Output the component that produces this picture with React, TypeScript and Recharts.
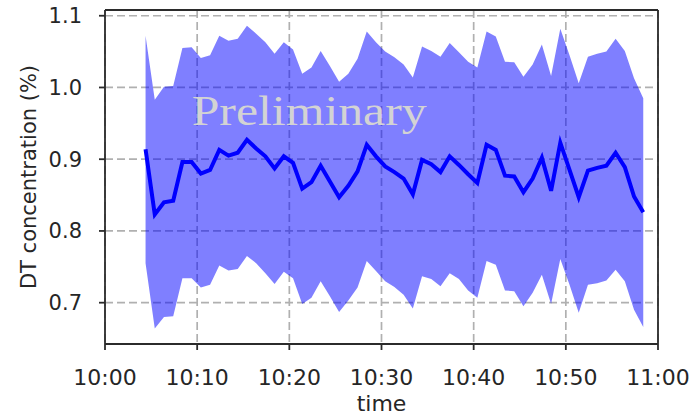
import { Area, CartesianGrid, ComposedChart, Line, XAxis, YAxis } from "recharts";

// minutes after 10:00
const minutes = [
  4.4, 5.4, 6.4, 7.4, 8.4, 9.4, 10.4, 11.4, 12.4, 13.4, 14.4, 15.4, 16.4, 17.4,
  18.4, 19.4, 20.4, 21.4, 22.4, 23.4, 24.4, 25.4, 26.4, 27.4, 28.4, 29.4, 30.4,
  31.4, 32.4, 33.4, 34.4, 35.4, 36.4, 37.4, 38.4, 39.4, 40.4, 41.4, 42.4, 43.4,
  44.4, 45.4, 46.4, 47.4, 48.4, 49.4, 50.4, 51.4, 52.4, 53.4, 54.4, 55.4, 56.4,
  57.4, 58.4,
];

const meanConc = [
  0.914, 0.823, 0.84, 0.842, 0.896, 0.896, 0.88, 0.885, 0.913, 0.905, 0.909,
  0.927, 0.915, 0.904, 0.887, 0.904, 0.895, 0.859, 0.868, 0.891, 0.869, 0.847,
  0.863, 0.883, 0.92, 0.904, 0.89, 0.882, 0.873, 0.851, 0.899, 0.893, 0.882,
  0.904, 0.892, 0.879, 0.867, 0.92, 0.913, 0.877, 0.876, 0.854, 0.873, 0.902,
  0.856, 0.923, 0.885, 0.847, 0.884, 0.888, 0.891, 0.909, 0.889, 0.848, 0.826,
];

const upperConc = [
  1.072, 0.983, 1.001, 1.002, 1.055, 1.056, 1.041, 1.045, 1.072, 1.065, 1.068,
  1.086, 1.075, 1.063, 1.047, 1.063, 1.053, 1.019, 1.028, 1.051, 1.03, 1.008,
  1.019, 1.04, 1.078, 1.063, 1.05, 1.042, 1.032, 1.014, 1.057, 1.051, 1.043,
  1.062, 1.049, 1.036, 1.028, 1.078, 1.071, 1.036, 1.035, 1.015, 1.032, 1.06,
  1.016, 1.082, 1.045, 1.006, 1.043, 1.047, 1.05, 1.068, 1.051, 1.013, 0.985,
];

const lowerConc = [
  0.755, 0.664, 0.68, 0.681, 0.734, 0.734, 0.721, 0.725, 0.752, 0.745, 0.747,
  0.765, 0.755, 0.741, 0.726, 0.743, 0.734, 0.698, 0.707, 0.73, 0.709, 0.687,
  0.703, 0.721, 0.758, 0.744, 0.73, 0.722, 0.711, 0.692, 0.737, 0.733, 0.723,
  0.741, 0.733, 0.717, 0.707, 0.758, 0.753, 0.717, 0.716, 0.695, 0.714, 0.739,
  0.698, 0.761, 0.725, 0.686, 0.725, 0.727, 0.731, 0.746, 0.73, 0.69, 0.666,
];

const xTicks = [0, 10, 20, 30, 40, 50, 60];
const xTickLabels = ["10:00", "10:10", "10:20", "10:30", "10:40", "10:50", "11:00"];
const yTicks = [0.7, 0.8, 0.9, 1.0, 1.1];
const yDomain = [0.6424, 1.108];

const data = minutes.map((t, i) => ({
  t,
  mean: meanConc[i],
  band: [lowerConc[i], upperConc[i]],
}));

const FONT = "'DejaVu Sans', sans-serif";
const INK = "#262626";
const AXIS = "#2b2b2b";

export default function App() {
  return (
    <div style={{ position: "absolute", left: 0, top: 0, width: 696, height: 415 }}>
      <ComposedChart
        width={696}
        height={415}
        data={data}
        margin={{ top: 10, right: 38, bottom: 0, left: 0 }}
      >
        <CartesianGrid
          stroke="#b0b0b0"
          strokeWidth={1.7}
          strokeDasharray="8 4"
          horizontalValues={yTicks}
          verticalValues={xTicks}
        />
        {/* top and right edges of the frame */}
        <CartesianGrid
          stroke={AXIS}
          strokeWidth={1.8}
          horizontalValues={[yDomain[1]]}
          verticalValues={[60]}
        />
        <XAxis
          dataKey="t"
          type="number"
          domain={[0, 60]}
          ticks={xTicks}
          tickFormatter={(v: number) => xTickLabels[xTicks.indexOf(v)]}
          height={71}
          tickSize={6}
          tickMargin={19}
          stroke={AXIS}
          strokeWidth={1.8}
          tick={{ fill: INK, fontSize: 22, fontFamily: FONT }}
          interval={0}
        />
        <YAxis
          type="number"
          domain={yDomain}
          ticks={yTicks}
          tickFormatter={(v: number) => v.toFixed(1)}
          width={105}
          tickSize={6}
          tickMargin={17}
          stroke={AXIS}
          strokeWidth={1.8}
          tick={{ fill: INK, fontSize: 21, fontFamily: FONT }}
          allowDataOverflow
          interval={0}
        />
        <Area
          dataKey="band"
          type="linear"
          stroke="none"
          fill="#0000ff"
          fillOpacity={0.5}
          isAnimationActive={false}
        />
        <Line
          dataKey="mean"
          type="linear"
          stroke="#0000ff"
          strokeWidth={4}
          dot={false}
          isAnimationActive={false}
        />
      </ComposedChart>
      <svg
        width={696}
        height={415}
        style={{ position: "absolute", left: 0, top: 0, pointerEvents: "none" }}
      >
        <text
          x={191.7}
          y={125}
          fontFamily="'Liberation Serif', serif"
          fontSize={42}
          fill="#d3d3d3"
          textLength={235}
          lengthAdjust="spacingAndGlyphs"
        >
          Preliminary
        </text>
        <text x={381.5} y={411} textAnchor="middle" fontFamily={FONT} fontSize={22} fill={INK}>
          time
        </text>
        <text
          x={35.5}
          y={177}
          textAnchor="middle"
          transform="rotate(-90, 35.5, 177)"
          fontFamily={FONT}
          fontSize={21}
          fill={INK}
        >
          DT concentration (%)
        </text>
      </svg>
    </div>
  );
}
